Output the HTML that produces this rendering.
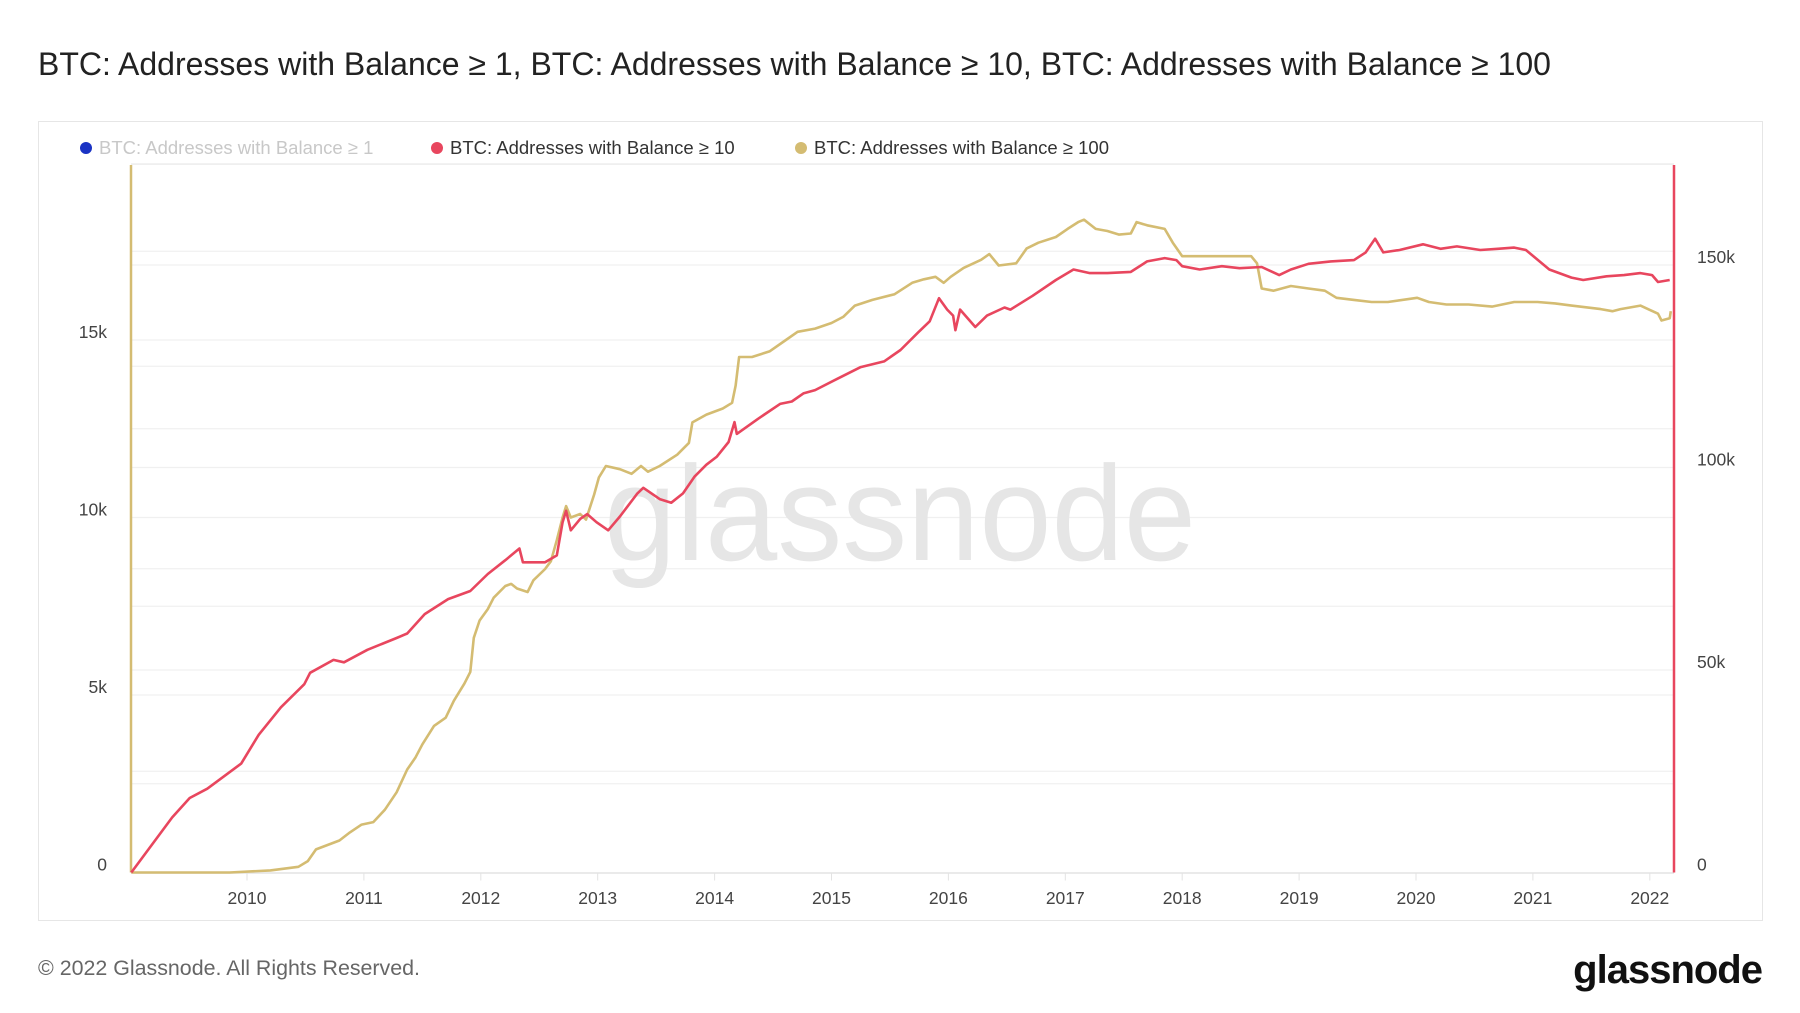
<!DOCTYPE html>
<html><head><meta charset="utf-8">
<style>
html,body{margin:0;padding:0;background:#fff;}
svg{display:block;font-family:"Liberation Sans",sans-serif;}
</style></head>
<body>
<svg id="chart" width="1800" height="1013" viewBox="0 0 1800 1013">
  <text x="38" y="75" font-size="32" fill="#222">BTC: Addresses with Balance ≥ 1, BTC: Addresses with Balance ≥ 10, BTC: Addresses with Balance ≥ 100</text>
  <rect x="38.5" y="121.5" width="1724" height="799" fill="#fff" stroke="#e6e6e6"/>
  <g>
    <g>
      <circle cx="86" cy="148" r="6" fill="#1a33c4"/>
      <text x="99" y="154" font-size="18.5" fill="#c8c8c8">BTC: Addresses with Balance ≥ 1</text>
    </g>
    <g>
      <circle cx="437" cy="148" r="6" fill="#e8465e"/>
      <text x="450" y="154" font-size="18.5" fill="#333">BTC: Addresses with Balance ≥ 10</text>
    </g>
    <g>
      <circle cx="801" cy="148" r="6" fill="#d4bc72"/>
      <text x="814" y="154" font-size="18.5" fill="#333">BTC: Addresses with Balance ≥ 100</text>
    </g>
  </g>
  <line x1="131" y1="164.5" x2="1674" y2="164.5" stroke="#eee"/>
  <g id="grid"></g>
  <text x="604" y="560" font-size="135" fill="#e6e6e6" textLength="592" lengthAdjust="spacingAndGlyphs">glassnode</text>
  <g id="axes"></g>
  <g id="series"></g>
  <text x="38" y="975" font-size="21.4" fill="#666">© 2022 Glassnode. All Rights Reserved.</text>
  <text x="1762" y="983" font-size="40" font-weight="bold" fill="#111" text-anchor="end" letter-spacing="-1">glassnode</text>
</svg>
<script>
const years = [2010,2011,2012,2013,2014,2015,2016,2017,2018,2019,2020,2021,2022];
const leftTicks = [0,5000,10000,15000];
const leftTickLabels = ["0","5k","10k","15k"];
const rightTicks = [0,50000,100000,150000];
const rightTickLabels = ["0","50k","100k","150k"];

const redDates = [2009.01,2009.36,2009.51,2009.66,2009.95,2010.10,2010.29,2010.49,2010.54,2010.74,2010.83,2011.03,2011.28,2011.37,2011.52,2011.72,2011.91,2012.06,2012.21,2012.33,2012.36,2012.55,2012.65,2012.70,2012.73,2012.77,2012.85,2012.91,2012.99,2013.09,2013.19,2013.34,2013.39,2013.53,2013.63,2013.73,2013.83,2013.93,2014.02,2014.12,2014.17,2014.19,2014.37,2014.56,2014.66,2014.76,2014.86,2015.05,2015.25,2015.45,2015.59,2015.74,2015.84,2015.92,2015.99,2016.04,2016.06,2016.10,2016.23,2016.33,2016.48,2016.53,2016.72,2016.92,2017.07,2017.21,2017.36,2017.56,2017.70,2017.85,2017.95,2018.00,2018.15,2018.34,2018.49,2018.68,2018.83,2018.93,2019.08,2019.27,2019.47,2019.57,2019.65,2019.72,2019.86,2020.06,2020.21,2020.35,2020.55,2020.70,2020.84,2020.94,2021.14,2021.33,2021.43,2021.63,2021.78,2021.92,2022.02,2022.07,2022.17];
const redValues = [0,13600,18400,20700,26900,34000,40800,46500,49300,52500,51900,55000,57900,59000,63800,67500,69500,73700,77100,80000,76600,76600,78300,86500,89300,84500,87300,88500,86500,84500,87900,93600,95000,92200,91300,93600,97800,100700,102700,106300,111200,108300,112000,115700,116300,118300,119100,121900,124800,126200,129000,133300,136100,141800,139000,137500,133900,139000,134700,137500,139500,139000,142400,146300,148900,148000,148000,148300,150900,151700,151200,149700,148900,149700,149200,149500,147500,148900,150300,150900,151200,153100,156500,153100,153700,155100,154000,154600,153700,154000,154300,153700,148900,146900,146300,147200,147500,148000,147500,145800,146300];

const goldDates = [2009.01,2009.85,2010.20,2010.44,2010.52,2010.59,2010.79,2010.88,2010.98,2011.08,2011.18,2011.28,2011.37,2011.44,2011.50,2011.60,2011.70,2011.77,2011.86,2011.91,2011.94,2011.99,2012.06,2012.11,2012.21,2012.26,2012.31,2012.40,2012.45,2012.55,2012.60,2012.65,2012.70,2012.73,2012.77,2012.85,2012.90,2012.97,2013.01,2013.07,2013.19,2013.29,2013.37,2013.43,2013.53,2013.68,2013.78,2013.81,2013.93,2014.07,2014.15,2014.18,2014.21,2014.32,2014.47,2014.61,2014.71,2014.86,2015.00,2015.10,2015.20,2015.35,2015.54,2015.69,2015.79,2015.89,2015.96,2016.02,2016.13,2016.28,2016.35,2016.43,2016.58,2016.67,2016.77,2016.92,2017.02,2017.11,2017.16,2017.26,2017.36,2017.46,2017.56,2017.61,2017.70,2017.85,2017.92,2018.00,2018.19,2018.39,2018.59,2018.64,2018.68,2018.78,2018.93,2019.08,2019.22,2019.32,2019.47,2019.62,2019.76,2020.01,2020.11,2020.26,2020.45,2020.65,2020.84,2021.04,2021.19,2021.33,2021.58,2021.68,2021.75,2021.92,2022.07,2022.10,2022.17,2022.18];
const goldValues = [0,0,60,160,320,650,900,1130,1350,1420,1770,2260,2900,3230,3610,4130,4360,4840,5320,5650,6610,7100,7420,7740,8070,8130,8000,7900,8230,8550,8770,9360,10000,10320,10000,10100,9940,10650,11130,11450,11360,11230,11450,11290,11450,11770,12100,12680,12900,13070,13230,13710,14520,14520,14680,15000,15230,15320,15480,15650,15970,16130,16290,16610,16710,16780,16610,16780,17030,17260,17420,17100,17160,17580,17740,17900,18130,18320,18390,18130,18070,17970,18000,18320,18230,18130,17740,17360,17360,17360,17360,17160,16450,16390,16520,16450,16390,16190,16130,16070,16070,16190,16070,16000,16000,15940,16070,16070,16030,15970,15870,15810,15870,15970,15740,15550,15610,15810];

const X0 = 131, Y0 = 872.5, TOP = 165, RIGHT = 1674;
function xScale(yr){ return 130.1 + (yr - 2009) * 116.9; }
function yLeft(v){ return Y0 - v / 5000 * 177.5; }
function yRight(v){ return Y0 - v / 50000 * 202.5; }
const NS = "http://www.w3.org/2000/svg";
function mk(tag, attrs, parent){ const e = document.createElementNS(NS, tag); for (const k in attrs) e.setAttribute(k, attrs[k]); parent.appendChild(e); return e; }

const grid = document.getElementById('grid');
for (let v = 2500; v <= 17500; v += 2500) {
  const l = mk('line', {x1:X0, x2:RIGHT, y1:yLeft(v), y2:yLeft(v), stroke:'#f0f0f0', 'stroke-width':1.2}, grid);
  
  
}
for (let v = 25000; v <= 175000; v += 25000) {
  const l = mk('line', {x1:X0, x2:RIGHT, y1:yRight(v), y2:yRight(v), stroke:'#f0f0f0', 'stroke-width':1.2}, grid);
  
  
}

const axes = document.getElementById('axes');


const xl = mk('line', {x1:X0, x2:RIGHT, y1:Y0+0.5, y2:Y0+0.5, stroke:'#e3e3e3', 'stroke-width':1.5}, axes);


years.forEach(yr => {
  const x = xScale(yr);
  const tk = mk('line', {x1:x, x2:x, y1:Y0, y2:Y0+8, stroke:'#e3e3e3'}, axes);
  
  
  const t = mk('text', {x:x, y:904, 'font-size':17.5, fill:'#444', 'text-anchor':'middle'}, axes);
  t.textContent = yr;
  
  
});
leftTicks.forEach((v, i) => {
  const t = mk('text', {x:107, y:yLeft(v)-2, 'font-size':17.5, fill:'#444', 'text-anchor':'end'}, axes);
  t.textContent = leftTickLabels[i];
  
  
});
rightTicks.forEach((v, i) => {
  const t = mk('text', {x:1697, y:yRight(v)-2, 'font-size':17.5, fill:'#444', 'text-anchor':'start'}, axes);
  t.textContent = rightTickLabels[i];
  
  
});
const la = mk('line', {x1:X0, x2:X0, y1:TOP, y2:Y0, stroke:'#d4bc72', 'stroke-width':2.5}, axes);


const ra = mk('line', {x1:RIGHT, x2:RIGHT, y1:TOP, y2:Y0, stroke:'#e8465e', 'stroke-width':2.5}, axes);



const series = document.getElementById('series');
const gp = goldDates.map((d, i) => xScale(d).toFixed(1) + ',' + yLeft(goldValues[i]).toFixed(1)).join(' ');
const gl = mk('polyline', {points:gp, fill:'none', stroke:'#d4bc72', 'stroke-width':2.6, 'stroke-linejoin':'round'}, series);


const rp = redDates.map((d, i) => xScale(d).toFixed(1) + ',' + yRight(redValues[i]).toFixed(1)).join(' ');
const rl = mk('polyline', {points:rp, fill:'none', stroke:'#e8465e', 'stroke-width':2.6, 'stroke-linejoin':'round'}, series);


</script>
</body></html>
